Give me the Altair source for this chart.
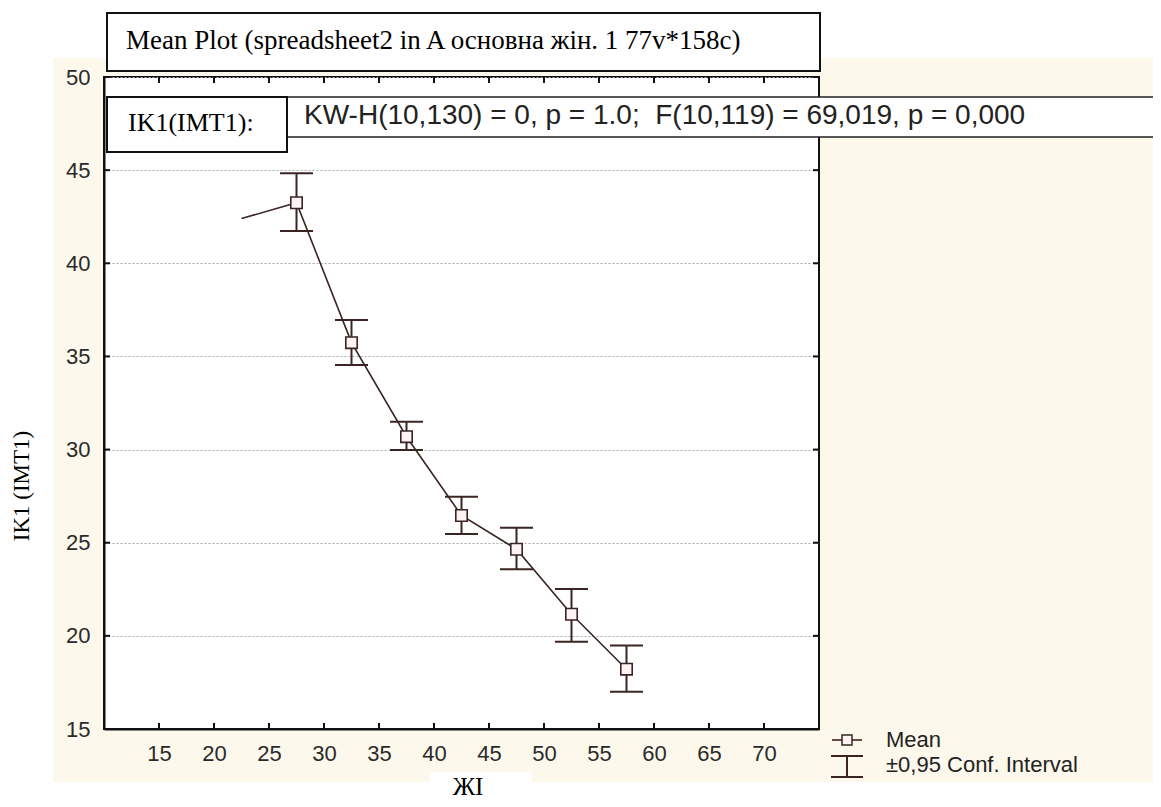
import altair as alt
import pandas as pd

# ---- data ----
zhi_levels = [22.5, 27.5, 32.5, 37.5, 42.5, 47.5, 52.5, 57.5]
mean_ik1 = [42.4, 43.25, 35.74, 30.69, 26.46, 24.65, 21.16, 18.21]
ci_low = [None, 41.73, 34.54, 29.98, 25.47, 23.57, 19.69, 17.0]
ci_high = [None, 44.83, 36.96, 31.5, 27.47, 25.81, 22.52, 19.48]
x_tick_values = [15, 20, 25, 30, 35, 40, 45, 50, 55, 60, 65, 70]
y_tick_values = [15, 20, 25, 30, 35, 40, 45, 50]

title_text = "Mean Plot (spreadsheet2 in A основна жін. 1 77v*158c)"
var_text = "IK1(IMT1):"
stat_text = "KW-H(10,130) = 0, p = 1.0;\u00a0 F(10,119) = 69,019, p = 0,000"
x_title = "ЖI"
y_title = "IK1 (IMT1)"
legend_mean = "Mean"
legend_ci = "±0,95 Conf. Interval"

# ---- layout ----
W, H = 715, 652
SERIF = "Liberation Serif"
SANS = "Liberation Sans"
DARK = "#3a2424"
BEIGE = "#fcf8ec"

df = pd.DataFrame({"zhi": zhi_levels, "mean": mean_ik1, "lo": ci_low, "hi": ci_high})
df_ci = df.dropna()
xt = pd.DataFrame({"v": x_tick_values})
yt = pd.DataFrame({"v": y_tick_values})
one = pd.DataFrame({"a": [0]})

xs = alt.Scale(domain=[10, 75], nice=False, zero=False)
ys = alt.Scale(domain=[15, 50], nice=False, zero=False)
xaxis = alt.Axis(title=None, values=x_tick_values, ticks=False, tickSize=0, grid=False,
                 labelFont=SANS, labelFontSize=22, labelColor="#2a2a2a", labelPadding=14,
                 domainColor="#111", domainWidth=2)
yaxis = alt.Axis(title=None, values=y_tick_values, ticks=False, tickSize=0, grid=True,
                 gridColor="#a8a8a8", gridDash=[2, 2], gridWidth=1,
                 labelFont=SANS, labelFontSize=22, labelColor="#2a2a2a", labelPadding=14,
                 domainColor="#111", domainWidth=2)


def X(field):
    return alt.X(field, type="quantitative", scale=xs, axis=xaxis)


def Y(field):
    return alt.Y(field, type="quantitative", scale=ys, axis=yaxis)


def rect(x1, x2, y1, y2, fill, stroke=None, sw=0):
    kw = dict(fill=fill)
    if stroke:
        kw.update(stroke=stroke, strokeWidth=sw)
    return alt.Chart(one).mark_rect(**kw).encode(
        x=alt.value(x1), x2=alt.value(x2), y=alt.value(y1), y2=alt.value(y2))


def text(t, x, y, font, size, align="left", angle=None, color="black"):
    kw = dict(align=align, baseline="middle", font=font, fontSize=size, color=color)
    if angle is not None:
        kw["angle"] = angle
    return alt.Chart(one).mark_text(**kw).encode(
        x=alt.value(x), y=alt.value(y), text=alt.value(t))


# white page areas outside the beige panel
white_top = rect(-120, 1100, -100, -19, "white")
white_left = rect(-120, -51, -100, 800, "white")
white_bottom = rect(-120, 1100, 705, 800, "white")
white_xlabel = rect(326, 428, 695, 800, "white")

# inward ticks on all four sides
TK = dict(color="#111", strokeWidth=2)
ticks_left = alt.Chart(yt).mark_rule(**TK).encode(
    y=Y("v"), x=alt.value(0), x2=alt.value(6))
ticks_right = alt.Chart(yt).mark_rule(**TK).encode(
    y=Y("v"), x=alt.value(W - 6), x2=alt.value(W))
ticks_bottom = alt.Chart(xt).mark_rule(**TK).encode(
    x=X("v"), y=alt.value(H - 6), y2=alt.value(H))
ticks_top = alt.Chart(xt).mark_rule(**TK).encode(
    x=X("v"), y=alt.value(0), y2=alt.value(6))

line = alt.Chart(df).mark_line(color=DARK, strokeWidth=1.6).encode(x=X("zhi"), y=Y("mean"))
whisk = alt.Chart(df_ci).mark_rule(color=DARK, strokeWidth=2).encode(
    x=X("zhi"), y=Y("lo"), y2=alt.Y2("hi"))
caps = alt.Chart(df_ci).transform_fold(["lo", "hi"], as_=["bound", "val"]).mark_tick(
    orient="horizontal", size=33, thickness=2, color=DARK, opacity=1).encode(
    x=X("zhi"), y=Y("val"))
pts = alt.Chart(df_ci).mark_square(size=130, fill="#fff3f3", stroke=DARK, strokeWidth=1.6,
                                   opacity=1, fillOpacity=1).encode(x=X("zhi"), y=Y("mean"))

# boxes with texts
title_box = rect(3, 716, -64, -6, "white", "#111", 2)
title_lbl = text(title_text, 22, -36, SERIF, 27)
stat_box = rect(183, 1054, 20, 60, "white", "#222", 1.5)
stat_lbl = text(stat_text, 200, 39, SANS, 28, color="#222")
var_box = rect(3, 183, 20, 75, "white", "#111", 2)
var_lbl = text(var_text, 24, 46, SERIF, 26)

# axis titles
xlab = text(x_title, 364, 710, SERIF, 25, align="center")
ylab = text(y_title, -82, 409, SERIF, 23, align="center", angle=270)

# legend
leg_line = alt.Chart(one).mark_rule(color=DARK, strokeWidth=1.6).encode(
    x=alt.value(728), x2=alt.value(758), y=alt.value(663))
leg_sq = alt.Chart(one).mark_square(size=100, fill="#fff3f3", stroke=DARK, strokeWidth=1.5,
                                    opacity=1).encode(x=alt.value(743), y=alt.value(663))
leg_v = alt.Chart(one).mark_rule(color=DARK, strokeWidth=2).encode(
    x=alt.value(743), y=alt.value(679), y2=alt.value(700))
leg_c1 = alt.Chart(one).mark_rule(color=DARK, strokeWidth=2).encode(
    x=alt.value(727), x2=alt.value(759), y=alt.value(679))
leg_c2 = alt.Chart(one).mark_rule(color=DARK, strokeWidth=2).encode(
    x=alt.value(727), x2=alt.value(759), y=alt.value(700))
leg_t1 = text(legend_mean, 782, 663, SANS, 22, color="#222")
leg_t2 = text(legend_ci, 782, 688, SANS, 22, color="#222")

chart = alt.layer(
    white_top, white_left, white_bottom, white_xlabel,
    line, whisk, caps, pts,
    ticks_left, ticks_right, ticks_bottom, ticks_top,
    title_box, title_lbl, stat_box, stat_lbl, var_box, var_lbl,
    xlab, ylab,
    leg_line, leg_sq, leg_v, leg_c1, leg_c2, leg_t1, leg_t2,
).properties(
    width=W, height=H,
    autosize=alt.AutoSizeParams(type="none"),
    padding={"left": 96, "top": 69, "right": 334, "bottom": 70},
    background=BEIGE,
).configure_view(fill="white", stroke="#111", strokeWidth=2)

chart.save("out.html", embed_options={"renderer": "svg", "actions": False})
